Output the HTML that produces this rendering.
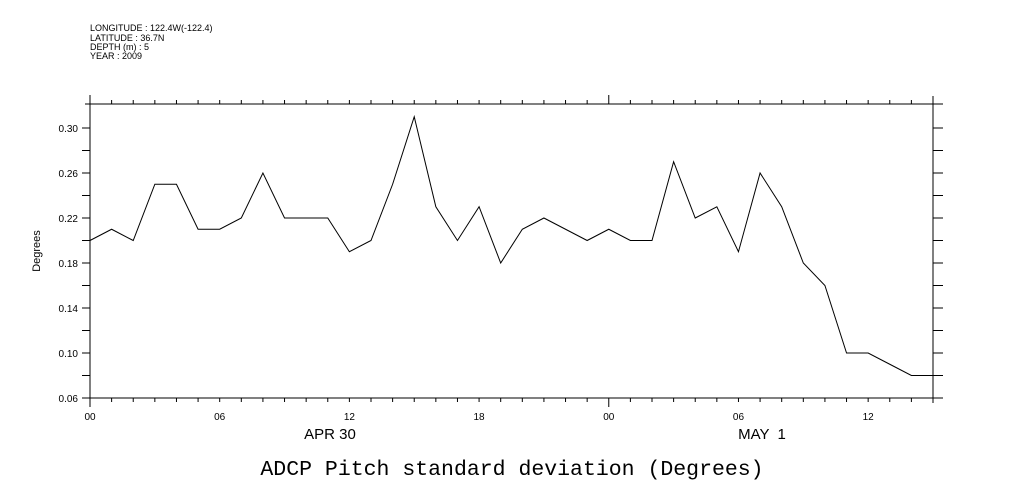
<!DOCTYPE html>
<html><head><meta charset="utf-8"><style>
body{margin:0;background:#fff;width:1009px;height:504px;overflow:hidden}
svg{display:block}
text{font-family:"Liberation Sans",sans-serif;fill:#000}
</style></head><body>
<svg id="chart" width="1009" height="504">
<g id="hdr">
<text x="90" y="31" font-size="9">LONGITUDE : 122.4W(-122.4)</text>
<text x="90" y="41" font-size="9">LATITUDE : 36.7N</text>
<text x="90" y="50" font-size="9">DEPTH (m) : 5</text>
<text x="90" y="59" font-size="9">YEAR : 2009</text>
</g>
<g id="axes"></g>
<text x="40" y="251" font-size="11" transform="rotate(-90 40 251)" text-anchor="middle">Degrees</text>
<text x="330" y="439" font-size="15" text-anchor="middle">APR 30</text>
<text x="762" y="439" font-size="15" text-anchor="middle" xml:space="preserve">MAY  1</text>
<text x="512" y="475" font-size="21.5" text-anchor="middle" style="font-family:'Liberation Mono',monospace">ADCP Pitch standard deviation (Degrees)</text>
</svg>
<script>
const hours=[0,1,2,3,4,5,6,7,8,9,10,11,12,13,14,15,16,17,18,19,20,21,22,23,24,25,26,27,28,29,30,31,32,33,34,35,36,37,38,39];
const values=[0.20,0.21,0.20,0.25,0.25,0.21,0.21,0.22,0.26,0.22,0.22,0.22,0.19,0.20,0.25,0.31,0.23,0.20,0.23,0.18,0.21,0.22,0.21,0.20,0.21,0.20,0.20,0.27,0.22,0.23,0.19,0.26,0.23,0.18,0.16,0.10,0.10,0.09,0.08,0.08];
const yTickLabels=["0.06","0.10","0.14","0.18","0.22","0.26","0.30"];
const xTickLabels=["00","06","12","18","00","06","12"];
const NS="http://www.w3.org/2000/svg";
const L=90,R=933,T=104,B=398,yMin=0.06,yMax=0.06+294/1125,xMax=39;
const sx=h=>L+(R-L)*h/xMax, sy=v=>B-(B-T)*(v-yMin)/(yMax-yMin);
const g=document.getElementById('axes');
function ln(x1,y1,x2,y2,name,w){const e=document.createElementNS(NS,'line');e.setAttribute('x1',x1);e.setAttribute('y1',y1);e.setAttribute('x2',x2);e.setAttribute('y2',y2);e.setAttribute('stroke','#000');e.setAttribute('stroke-width',w||1);


g.appendChild(e);return e;}
function tx(x,y,s,anchor,name){const e=document.createElementNS(NS,'text');e.setAttribute('x',x);e.setAttribute('y',y);e.setAttribute('font-size','10');e.setAttribute('text-anchor',anchor);e.textContent=s;


g.appendChild(e);}
ln(L-5,T,R+10,T,'top-frame');ln(L-5,B,R+10,B,'bottom-frame');
ln(L,T-8,L,B+5,'left-axis');ln(R,T-8,R,B+5,'right-axis');
for(let h=0;h<=xMax;h++){const x=sx(h);const big=h%24===0;
ln(x,T,x,T-(big?9:4),'x-tick-top');ln(x,B,x,B+(big?9:4),'x-tick-bottom');}
for(let i=0;i<xTickLabels.length;i++){tx(sx(i*6),B+22,xTickLabels[i],'middle','x-tick-label');}
for(let k=0;k<=12;k++){const v=0.06+k*0.02;const y=sy(v);
ln(L-8,y,L,y,'y-tick-left');ln(R,y,R+10,y,'y-tick-right');}
yTickLabels.forEach(s=>{tx(L-12,sy(parseFloat(s))+4,s,'end','y-tick-label');});
const p=document.createElementNS(NS,'polyline');
p.setAttribute('points',hours.map((h,i)=>sx(h)+','+sy(values[i])).join(' '));
p.setAttribute('fill','none');p.setAttribute('stroke','#000');p.setAttribute('stroke-width','1');


g.appendChild(p);
</script>
</body></html>
